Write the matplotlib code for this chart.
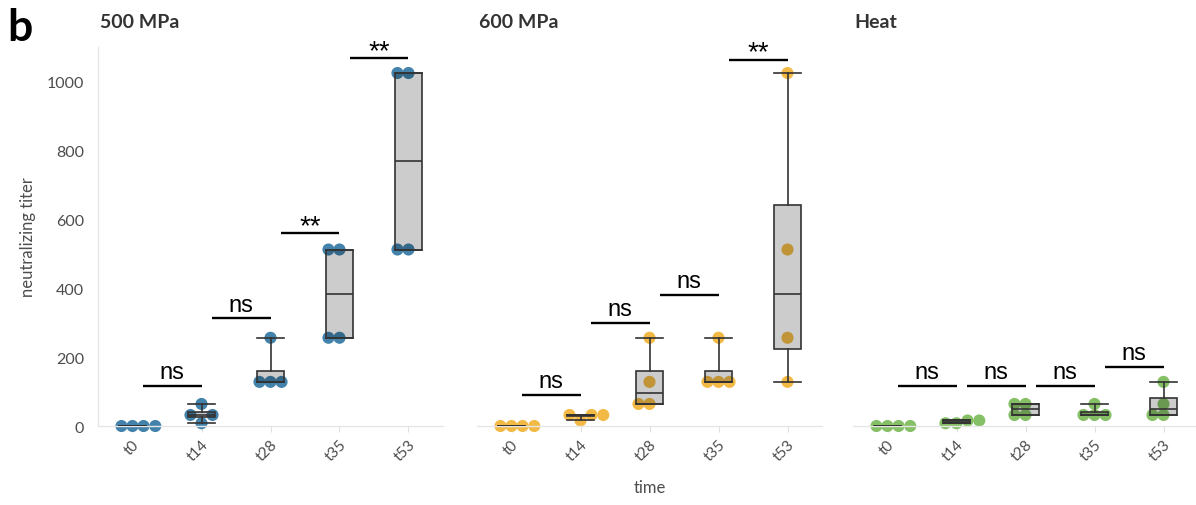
import matplotlib
matplotlib.use('Agg')
import matplotlib.pyplot as plt

plt.rcParams['font.family'] = ['Lato', 'DejaVu Sans']

# 数据
times = ['t0', 't14', 't28', 't35', 't53']
panels = ['500 MPa', '600 MPa', 'Heat']
colors = ['#4282ab', '#f2ba45', '#85c066']

titers_500 = [[0, 0, 0, 0], [8, 32, 32, 64], [128, 128, 128, 256],
              [256, 256, 512, 512], [512, 512, 1024, 1024]]
titers_600 = [[0, 0, 0, 0], [16, 32, 32, 32], [64, 64, 128, 256],
              [128, 128, 128, 256], [128, 256, 512, 1024]]
titers_heat = [[0, 0, 0, 0], [8, 8, 16, 16], [32, 32, 64, 64],
               [32, 32, 32, 64], [32, 32, 64, 128]]

sig_500 = ['ns', 'ns', '**', '**']
sig_y_500 = [117, 312, 559, 1067]
sig_600 = ['ns', 'ns', 'ns', '**']
sig_y_600 = [90, 300, 380, 1062]
sig_heat = ['ns', 'ns', 'ns', 'ns']
sig_y_heat = [117, 117, 117, 172]

all_titers = [titers_500, titers_600, titers_heat]
all_sig = [sig_500, sig_600, sig_heat]
all_sig_y = [sig_y_500, sig_y_600, sig_y_heat]


# 简单的蜂群排布，避免点重叠
def swarm(vals, px_x=69, px_y=0.345, d=10):
    cands = [0, -0.16, 0.16, 0.33, -0.33]
    placed = []
    for v in vals:
        pos = cands[-1]
        for c in cands:
            ok = True
            for (ox, oy) in placed:
                if ((c - ox) * px_x) ** 2 + ((v - oy) * px_y) ** 2 < d ** 2:
                    ok = False
                    break
            if ok:
                pos = c
                break
        placed.append((pos, v))
    return placed


fig = plt.figure(figsize=(11.96, 5.06), dpi=100)
lefts = [98, 477, 853]
axes = []
for k in range(3):
    ax = fig.add_axes([lefts[k] / 1196, 0.1561, 345 / 1196, 0.7494])
    axes.append(ax)
    titers = all_titers[k]

    for i, vals in enumerate(titers):
        pts = swarm(vals)
        xs = [i + p[0] for p in pts]
        ys = [p[1] for p in pts]
        ax.scatter(xs, ys, s=76, color=colors[k], edgecolors='none',
                   zorder=2, clip_on=False)

    ax.boxplot(titers, positions=range(len(times)), widths=0.4, whis=(0, 100),
               showfliers=False, patch_artist=True, capwidths=0.4,
               boxprops=dict(facecolor=(0, 0, 0, 0.2), edgecolor='#333333', linewidth=1.2),
               medianprops=dict(color='#333333', linewidth=1.2),
               whiskerprops=dict(color='#333333', linewidth=1.2),
               capprops=dict(color='#333333', linewidth=1.2),
               zorder=3)

    # 显著性标注
    for j, lab in enumerate(all_sig[k]):
        y = all_sig_y[k][j]
        ax.plot([j + 0.15, j + 1.0], [y, y], color='black', lw=1.7,
                zorder=4, clip_on=False, solid_capstyle='butt')
        if lab == '**':
            fs, off = 20, -4
        else:
            fs, off = 17, 2
        ax.annotate(lab, ((j + 0.575), y), xytext=(0, off), textcoords='offset points',
                    ha='center', va='bottom', fontsize=fs, color='black',
                    family=['Liberation Sans', 'DejaVu Sans'], annotation_clip=False)

    ax.set_xlim(-0.5, 4.5)
    ax.set_ylim(0, 1100)
    ax.set_xticks(range(len(times)))
    ax.set_xticklabels(times, rotation=45, ha='right', rotation_mode='anchor')
    ax.tick_params(axis='x', length=4, width=0.8, color='#e0e0e0',
                   labelsize=11, labelcolor='#4d4d4d', pad=4)
    for s in ['top', 'right']:
        ax.spines[s].set_visible(False)
    ax.spines['bottom'].set_color('#e6e6e6')
    ax.spines['bottom'].set_linewidth(1.0)
    if k == 0:
        ax.set_yticks([0, 200, 400, 600, 800, 1000])
        ax.tick_params(axis='y', length=0, labelsize=11.5, labelcolor='#4d4d4d', pad=10)
        ax.spines['left'].set_color('#e6e6e6')
        ax.spines['left'].set_linewidth(1.0)
        ax.set_ylabel('neutralizing titer', fontsize=12, color='#4d4d4d', labelpad=8)
    else:
        ax.set_yticks([])
        ax.spines['left'].set_visible(False)
    ax.set_title(panels[k], loc='left', fontsize=14, fontweight='bold',
                 color='#333333', pad=14, x=0.005)

fig.text(0.5435, 0.02, 'time', ha='center', va='bottom', fontsize=12, color='#4d4d4d')
fig.text(0.006, 0.945, 'b', ha='left', va='center', fontsize=32, fontweight='bold', color='black')

fig.savefig('out.png', dpi=100)
